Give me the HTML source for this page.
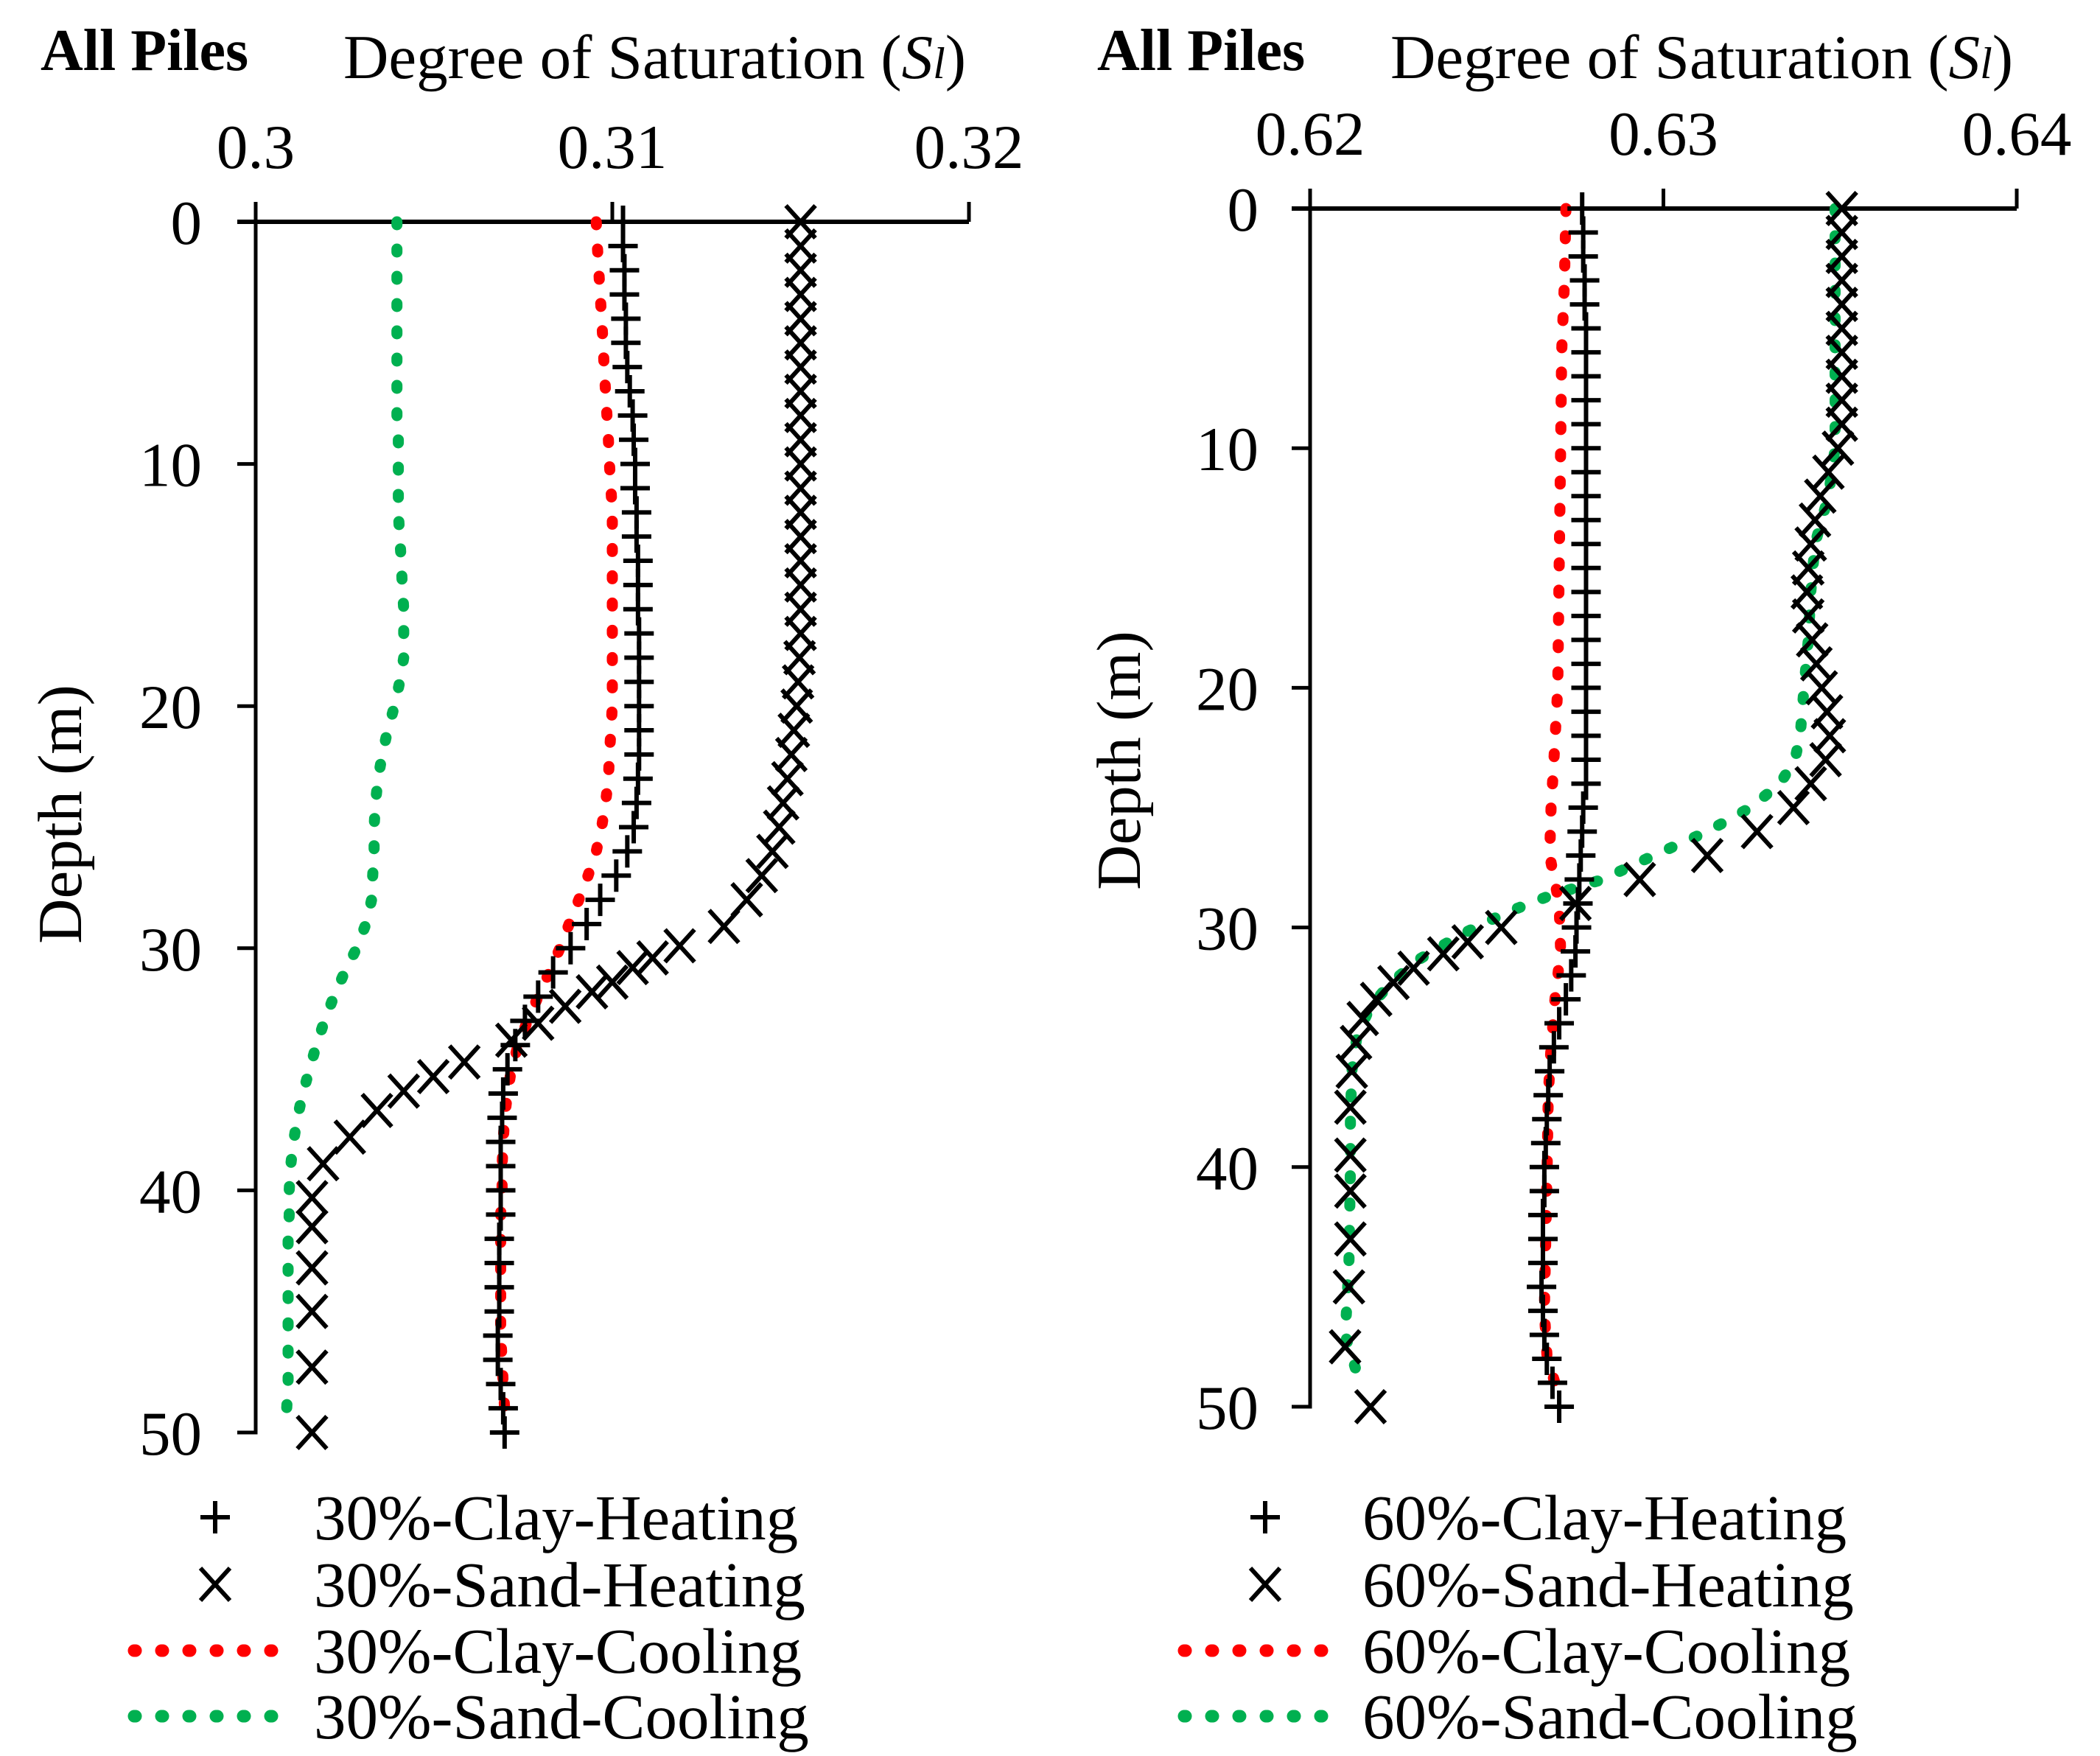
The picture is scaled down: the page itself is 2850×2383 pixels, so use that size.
<!DOCTYPE html>
<html><head><meta charset="utf-8"><style>
html,body{margin:0;padding:0;background:#fff;}
svg{display:block;font-family:"Liberation Serif",serif;}
</style></head><body>
<svg id="fig" width="2850" height="2383" viewBox="0 0 2850 2383" xmlns="http://www.w3.org/2000/svg"></svg>
<script>
// ---- Left chart data (30%) ----
const lClayHeatDepth = [0,1,2,3,4,5,6,7,8,9,10,11,12,13,14,15,16,17,18,19,20,21,22,23,24,25,26,27,28,29,30,31,32,33,34,35,36,37,38,39,40,41,42,43,44,45,46,47,48,49,50];
const lClayHeatVal = [.31030,.31030,.31034,.31034,.31038,.31038,.31042,.31049,.31057,.31060,.31064,.31064,.31068,.31068,.31072,.31072,.31072,.31075,.31075,.31075,.31075,.31075,.31075,.31072,.31068,.31060,.31042,.31011,.30966,.30928,.30883,.30834,.30792,.30755,.30728,.30706,.30694,.30691,.30687,.30687,.30687,.30687,.30683,.30683,.30683,.30683,.30679,.30679,.30687,.30694,.30698];
const lSandHeatDepth = [0,1,2,3,4,5,6,7,8,9,10,11,12,13,14,15,16,17,18,19,20,21,22,23,24,25,26,27,28,29.1,29.9,30.4,30.8,31.4,31.8,32.4,33.1,33.8,34.7,35.3,35.9,36.7,37.8,38.9,40.3,41.5,43.2,45,47.3,50];
const lSandHeatVal = [.31528,.31528,.31528,.31528,.31528,.31528,.31528,.31528,.31528,.31528,.31528,.31528,.31528,.31528,.31528,.31528,.31528,.31528,.31525,.31521,.31517,.31509,.31502,.31491,.31479,.31468,.31449,.31419,.31377,.31313,.31189,.31113,.31057,.31000,.30943,.30868,.30792,.30717,.30585,.30498,.30415,.30340,.30264,.30189,.30158,.30158,.30158,.30158,.30158,.30158];
const lClayCoolDepth = [0,1,2,3,4,5,6,7,8,9,10,11,12,13,14,15,16,17,18,19,20,21,22,23,24,25,26,27,28,29,30,31,32,33,34,35,36,37,38,39,40,41,42,43,44,45,46,47,48,49];
const lClayCoolVal = [.30955,.30958,.30962,.30966,.30970,.30974,.30977,.30981,.30985,.30989,.30992,.30996,.31000,.31000,.31000,.31000,.31000,.31000,.31000,.31000,.31000,.30996,.30992,.30989,.30981,.30970,.30955,.30932,.30906,.30879,.30853,.30823,.30792,.30762,.30736,.30717,.30706,.30698,.30694,.30691,.30691,.30687,.30687,.30687,.30687,.30687,.30687,.30691,.30694,.30698];
const lSandCoolDepth = lClayCoolDepth;
const lSandCoolVal = [.30396,.30396,.30396,.30396,.30396,.30396,.30396,.30396,.30396,.30400,.30400,.30400,.30400,.30404,.30408,.30411,.30415,.30415,.30415,.30404,.30389,.30370,.30355,.30343,.30336,.30332,.30332,.30328,.30325,.30309,.30283,.30249,.30219,.30193,.30170,.30151,.30132,.30117,.30106,.30098,.30094,.30094,.30091,.30091,.30091,.30091,.30091,.30091,.30091,.30087];
const lTicks = ["0.3","0.31","0.32"];
const lTickVals = [0.30,0.31,0.32];
// ---- Right chart data (60%) ----
const rClayHeatDepth = lClayHeatDepth;
const rClayHeatVal = [.62770,.62773,.62773,.62777,.62777,.62781,.62781,.62781,.62781,.62781,.62781,.62781,.62781,.62781,.62781,.62781,.62781,.62781,.62781,.62781,.62781,.62781,.62781,.62781,.62781,.62773,.62770,.62766,.62762,.62758,.62754,.62751,.62739,.62724,.62705,.62690,.62678,.62674,.62670,.62667,.62663,.62663,.62659,.62659,.62659,.62655,.62659,.62663,.62670,.62686,.62705];
const rSandHeatDepth = [0,1,2,3,4,5,6,7,8,9,10,11,12,13,14,15,16,17,18,19,20,21,22,23,24,25,26,27,28,29,30,30.6,31.1,31.7,32.3,33,33.8,34.8,36,37.5,39.5,41,43,45,47.5,50];
const rSandHeatVal = [.63505,.63505,.63505,.63505,.63505,.63505,.63505,.63505,.63505,.63505,.63494,.63467,.63444,.63429,.63417,.63410,.63406,.63410,.63421,.63433,.63448,.63463,.63471,.63459,.63417,.63368,.63265,.63124,.62933,.62751,.62541,.62446,.62377,.62293,.62236,.62187,.62149,.62130,.62118,.62114,.62114,.62114,.62114,.62110,.62099,.62171];
const rClayCoolDepth = [0,3,6,10,15,20,23,25,27,29,31,33,35,37,40,43,46,48,49];
const rClayCoolVal = [.62724,.62720,.62712,.62709,.62705,.62701,.62690,.62682,.62678,.62705,.62709,.62693,.62682,.62674,.62671,.62667,.62663,.62671,.62693];
const rSandCoolDepth = [0,10,12,14,16,18,20,22,23,24,25,26,27,28,28.7,29.4,30.3,31.3,32.3,33.3,34.5,36,38,40,44,46,47,49];
const rSandCoolVal = [.63486,.63486,.63467,.63429,.63417,.63410,.63398,.63387,.63372,.63330,.63246,.63124,.62972,.62827,.62674,.62552,.62427,.62312,.62229,.62171,.62133,.62118,.62114,.62114,.62110,.62103,.62099,.62141];
const rTicks = ["0.62","0.63","0.64"];
const rTickVals = [0.62,0.63,0.64];
const depthTicks = [0,10,20,30,40,50];

const NS="http://www.w3.org/2000/svg";
const svg=document.getElementById('fig');
function mk(tag,attrs,parent){const e=document.createElementNS(NS,tag);for(const k in attrs)e.setAttribute(k,attrs[k]);(parent||svg).appendChild(e);return e;}

function drawChart(c){
  const g=mk('g',{});
  
  
  const sx=v=>c.x0+(v-c.vmin)/(c.vmax-c.vmin)*(c.x1-c.x0);
  const sy=d=>c.y0+d/50*(c.y1-c.y0);
  const xa=mk('path',{d:`M${c.x0-25} ${c.y0} H${c.x1}`,stroke:'#000','stroke-width':6,fill:'none'},g);
  
  
  c.tickVals.forEach((v,i)=>{
    const t=mk('line',{x1:sx(v),x2:sx(v),y1:c.y0,y2:c.y0-27,stroke:'#000','stroke-width':5},g);
    
    
    const l=mk('text',{x:sx(v),y:c.tickY,'text-anchor':'middle','font-size':85},g);
    l.textContent=c.ticks[i];
    
    
  });
  const ya=mk('path',{d:`M${c.x0} ${c.y0} V${c.y1} H${c.x0-25}`,stroke:'#000','stroke-width':5,fill:'none'},g);
  
  
  depthTicks.forEach(d=>{
    const t=mk('line',{x1:c.x0-25,x2:c.x0,y1:sy(d),y2:sy(d),stroke:'#000','stroke-width':5},g);
    
    
    const l=mk('text',{x:c.ylabX,y:sy(d)+30,'text-anchor':'end','font-size':85},g);
    l.textContent=String(d);
    
    
  });
  const yt=mk('text',{x:0,y:0,transform:`translate(${c.ytX},${c.ytY}) rotate(-90)`,'text-anchor':'middle','font-size':85},g);
  yt.textContent='Depth (m)';
  
  
  const ap=mk('text',{x:c.apX,y:95,'font-size':80,'font-weight':'bold'},g);
  ap.textContent='All Piles';
  
  
  const tt=mk('text',{x:c.titleX,y:106,'font-size':85},g);
  tt.innerHTML='Degree of Saturation (<tspan font-style="italic">S</tspan><tspan font-style="italic" font-size="60">l</tspan>)';
  
  
  function dotted(depths,vals,color,name){
    const d=depths.map((dd,i)=>(i?'L':'M')+sx(vals[i]).toFixed(1)+' '+sy(dd).toFixed(1)).join(' ');
    const p=mk('path',{d,stroke:color,'stroke-width':15,fill:'none','stroke-linecap':'round','stroke-dasharray':'4 33'},g);
    
    
  }
  dotted(c.clayCoolD,c.clayCoolV,'#ff0000','clay-cooling-line');
  dotted(c.sandCoolD,c.sandCoolV,'#00b050','sand-cooling-line');
  const ch=mk('g',{stroke:'#000','stroke-width':6,fill:'none'},g);
  
  
  c.clayHeatD.forEach((dd,i)=>{
    const x=sx(c.clayHeatV[i]),y=sy(dd);
    const m=mk('path',{d:`M${x-20} ${y} H${x+20} M${x} ${y-22} V${y+22}`},ch);
    
    
  });
  const sh=mk('g',{stroke:'#000','stroke-width':6,fill:'none'},g);
  
  
  c.sandHeatD.forEach((dd,i)=>{
    const x=sx(c.sandHeatV[i]),y=sy(dd);
    const m=mk('path',{d:`M${x-20} ${y-22} L${x+20} ${y+22} M${x+20} ${y-22} L${x-20} ${y+22}`},sh);
    
    
  });
  const lg=mk('g',{},g);
  
  
  const rows=[2059,2150,2240,2329];
  const labels=[c.pct+'-Clay-Heating',c.pct+'-Sand-Heating',c.pct+'-Clay-Cooling',c.pct+'-Sand-Cooling'];
  labels.forEach((lab,i)=>{
    const y=rows[i];const mx=c.legMX;
    let m;
    if(i===0) m=mk('path',{d:`M${mx-20} ${y} H${mx+20} M${mx} ${y-22} V${y+22}`,stroke:'#000','stroke-width':6},lg);
    else if(i===1) m=mk('path',{d:`M${mx-20} ${y-22} L${mx+20} ${y+22} M${mx+20} ${y-22} L${mx-20} ${y+22}`,stroke:'#000','stroke-width':6},lg);
    else m=mk('path',{d:`M${mx-110} ${y} H${mx+100}`,stroke:i===2?'#ff0000':'#00b050','stroke-width':17,'stroke-linecap':'round','stroke-dasharray':'2 35'},lg);
    
    
    const t=mk('text',{x:c.legTX,y:y+30,'font-size':87},lg);
    t.textContent=lab;
    
    
  });
}

drawChart({name:'left-chart-30pct',pct:'30%',x0:347,x1:1315,vmin:0.30,vmax:0.32,y0:301,y1:1944,
  ticks:lTicks,tickVals:lTickVals,tickY:228,ylabX:274,ytX:110,ytY:1105,apX:55,titleX:466,
  legMX:292,legTX:426,
  clayHeatD:lClayHeatDepth,clayHeatV:lClayHeatVal,sandHeatD:lSandHeatDepth,sandHeatV:lSandHeatVal,
  clayCoolD:lClayCoolDepth,clayCoolV:lClayCoolVal,sandCoolD:lSandCoolDepth,sandCoolV:lSandCoolVal});
drawChart({name:'right-chart-60pct',pct:'60%',x0:1778,x1:2737,vmin:0.62,vmax:0.64,y0:283,y1:1909,
  ticks:rTicks,tickVals:rTickVals,tickY:210,ylabX:1708,ytX:1547,ytY:1032,apX:1489,titleX:1887,
  legMX:1717,legTX:1849,
  clayHeatD:rClayHeatDepth,clayHeatV:rClayHeatVal,sandHeatD:rSandHeatDepth,sandHeatV:rSandHeatVal,
  clayCoolD:rClayCoolDepth,clayCoolV:rClayCoolVal,sandCoolD:rSandCoolDepth,sandCoolV:rSandCoolVal});
</script>
</body></html>
